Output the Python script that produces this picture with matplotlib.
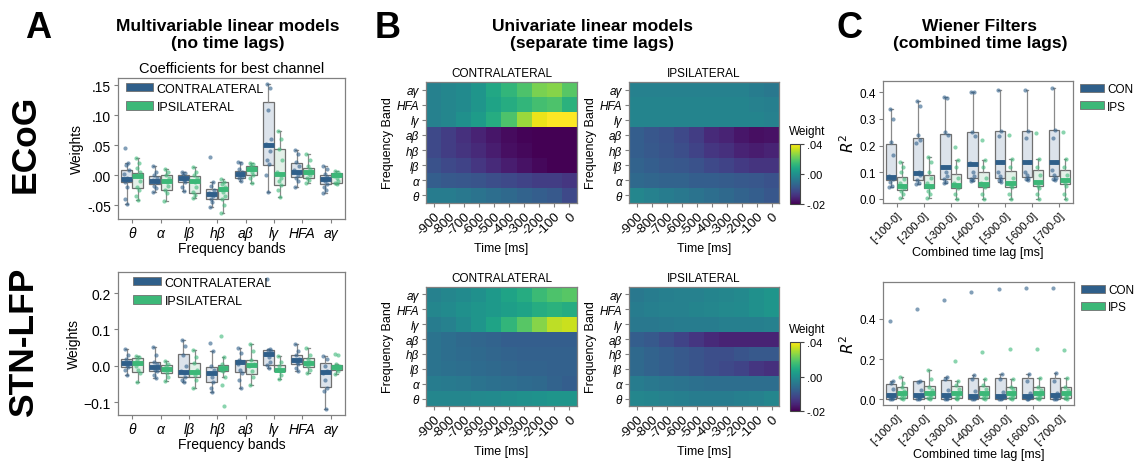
import numpy as np
import matplotlib
matplotlib.use("Agg")
import matplotlib.pyplot as plt
from matplotlib.patches import Patch
from matplotlib.colors import TwoSlopeNorm

plt.rcParams['font.family'] = ['Liberation Sans', 'DejaVu Sans']

# =====================================================
# DATA
# =====================================================
bands = ['θ', 'α', 'lβ', 'hβ', 'aβ', 'lγ', 'HFA', 'aγ']
lags = ['[-100-0]', '[-200-0]', '[-300-0]', '[-400-0]', '[-500-0]', '[-600-0]', '[-700-0]']
times = ['-900', '-800', '-700', '-600', '-500', '-400', '-300', '-200', '-100', '0']

# box stats per band: [whisker low, q1, median, q3, whisker high]
ecog_con_box = [[-0.048, -0.012, -0.007, 0.008, 0.020], [-0.028, -0.015, -0.010, -0.002, 0.016],
                [-0.027, -0.012, -0.004, 0.001, 0.005], [-0.053, -0.040, -0.031, -0.023, -0.012],
                [-0.010, -0.005, 0.002, 0.007, 0.022], [-0.028, 0.017, 0.051, 0.122, 0.152],
                [-0.020, -0.003, 0.005, 0.020, 0.042], [-0.030, -0.015, -0.006, 0.001, 0.015]]
ecog_ips_box = [[-0.042, -0.022, -0.001, 0.003, 0.028], [-0.043, -0.025, -0.010, 0.000, 0.010],
                [-0.038, -0.030, -0.010, -0.002, 0.013], [-0.063, -0.040, -0.023, -0.012, -0.007],
                [-0.013, 0.001, 0.010, 0.015, 0.020], [-0.037, -0.017, 0.002, 0.043, 0.073],
                [-0.013, -0.005, 0.005, 0.012, 0.035], [-0.015, -0.013, 0.000, 0.003, 0.007]]
ecog_con_pts = [[0.046, 0.02, 0.017, 0.008, 0.002, -0.005, -0.008, -0.012, -0.02, -0.04, -0.048],
                [0.016, 0.006, 0.0, -0.005, -0.008, -0.01, -0.012, -0.018, -0.022, -0.028],
                [0.005, 0.003, 0.0, -0.004, -0.005, -0.008, -0.012, -0.02, -0.027],
                [0.03, -0.012, -0.018, -0.025, -0.03, -0.032, -0.035, -0.04, -0.045, -0.053],
                [0.022, 0.02, 0.01, 0.006, 0.003, 0.0, -0.003, -0.005, -0.01],
                [0.152, 0.145, 0.108, 0.06, 0.052, 0.05, 0.04, 0.025, 0.018, 0.0, -0.028],
                [0.042, 0.035, 0.022, 0.015, 0.008, 0.005, 0.0, -0.004, -0.01, -0.02],
                [0.015, 0.01, 0.002, -0.003, -0.006, -0.01, -0.015, -0.02, -0.025, -0.03]]
ecog_ips_pts = [[0.028, 0.02, 0.012, 0.005, 0.0, -0.002, -0.01, -0.02, -0.025, -0.035, -0.042],
                [0.01, 0.005, 0.0, -0.005, -0.01, -0.012, -0.018, -0.025, -0.03, -0.043],
                [0.013, 0.005, 0.0, -0.005, -0.01, -0.012, -0.02, -0.028, -0.033, -0.038],
                [-0.007, -0.012, -0.015, -0.02, -0.023, -0.028, -0.035, -0.04, -0.05, -0.063],
                [0.02, 0.018, 0.015, 0.012, 0.01, 0.005, 0.001, -0.005, -0.013],
                [0.073, 0.06, 0.043, 0.025, 0.005, 0.002, -0.005, -0.01, -0.017, -0.025, -0.037],
                [0.035, 0.025, 0.015, 0.01, 0.006, 0.004, 0.0, -0.005, -0.008, -0.013],
                [0.007, 0.005, 0.002, 0.0, -0.002, -0.005, -0.01, -0.013, -0.015]]

stn_con_box = [[-0.025, -0.002, 0.008, 0.018, 0.047], [-0.033, -0.015, -0.003, 0.010, 0.052],
               [-0.045, -0.030, -0.017, 0.032, 0.072], [-0.072, -0.043, -0.020, -0.002, 0.040],
               [-0.060, -0.017, 0.010, 0.017, 0.050], [-0.005, 0.002, 0.032, 0.045, 0.047],
               [-0.013, 0.005, 0.015, 0.030, 0.060], [-0.118, -0.057, -0.018, 0.007, 0.028]]
stn_ips_box = [[-0.043, -0.017, 0.008, 0.022, 0.028], [-0.042, -0.020, -0.008, 0.003, 0.013],
               [-0.062, -0.030, -0.017, 0.007, 0.043], [-0.030, -0.015, -0.005, 0.003, 0.025],
               [-0.053, -0.023, 0.002, 0.015, 0.060], [-0.035, -0.015, -0.012, 0.003, 0.027],
               [-0.020, -0.003, 0.007, 0.022, 0.050], [-0.022, -0.010, -0.002, 0.003, 0.005]]
stn_con_pts = [[0.047, 0.03, 0.02, 0.012, 0.008, 0.003, -0.002, -0.01, -0.025],
               [0.052, 0.03, 0.012, 0.005, -0.003, -0.01, -0.015, -0.025, -0.033],
               [0.072, 0.055, 0.03, 0.0, -0.015, -0.02, -0.03, -0.04, -0.045],
               [0.062, 0.04, 0.0, -0.01, -0.02, -0.03, -0.045, -0.06, -0.072],
               [0.05, 0.035, 0.015, 0.01, 0.005, -0.01, -0.02, -0.04, -0.06],
               [0.24, 0.047, 0.045, 0.04, 0.032, 0.025, 0.01, 0.002, -0.005],
               [0.06, 0.04, 0.03, 0.02, 0.015, 0.01, 0.005, -0.005, -0.013],
               [0.028, 0.02, 0.0, -0.015, -0.02, -0.04, -0.06, -0.07, -0.118]]
stn_ips_pts = [[0.028, 0.025, 0.015, 0.008, 0.0, -0.01, -0.02, -0.043],
               [0.013, 0.005, 0.0, -0.008, -0.012, -0.02, -0.03, -0.042],
               [0.043, 0.025, 0.007, -0.01, -0.017, -0.025, -0.04, -0.062],
               [0.082, 0.025, 0.005, -0.005, -0.01, -0.015, -0.03, -0.052, -0.11],
               [0.06, 0.04, 0.015, 0.005, 0.0, -0.015, -0.03, -0.053],
               [0.027, 0.01, 0.0, -0.01, -0.012, -0.015, -0.025, -0.035],
               [0.05, 0.03, 0.02, 0.01, 0.005, 0.0, -0.01, -0.02],
               [0.033, 0.03, 0.005, 0.0, -0.002, -0.008, -0.015, -0.022]]

# Wiener filter R^2
wf_ecog_con_box = [[0.045, 0.070, 0.083, 0.205, 0.338], [0.055, 0.070, 0.098, 0.228, 0.366],
                   [0.060, 0.075, 0.118, 0.243, 0.382], [0.067, 0.077, 0.131, 0.251, 0.402],
                   [0.065, 0.080, 0.137, 0.255, 0.410], [0.070, 0.082, 0.137, 0.256, 0.410],
                   [0.072, 0.085, 0.140, 0.258, 0.415]]
wf_ecog_ips_box = [[0.005, 0.035, 0.050, 0.083, 0.137], [0.005, 0.040, 0.050, 0.090, 0.158],
                   [0.000, 0.040, 0.053, 0.095, 0.145], [0.000, 0.045, 0.055, 0.100, 0.145],
                   [0.000, 0.045, 0.060, 0.105, 0.148], [0.000, 0.050, 0.063, 0.108, 0.148],
                   [0.000, 0.055, 0.070, 0.108, 0.148]]
wf_ecog_con_pts = [[0.338, 0.3, 0.215, 0.165, 0.085, 0.08, 0.075, 0.065, 0.05, 0.045],
                   [0.366, 0.35, 0.24, 0.22, 0.21, 0.1, 0.09, 0.07, 0.06, 0.055],
                   [0.382, 0.38, 0.25, 0.24, 0.12, 0.1, 0.085, 0.075, 0.065, 0.06],
                   [0.402, 0.4, 0.25, 0.235, 0.135, 0.1, 0.085, 0.075, 0.07, 0.067],
                   [0.41, 0.255, 0.235, 0.14, 0.1, 0.085, 0.075, 0.07, 0.065],
                   [0.41, 0.255, 0.23, 0.14, 0.1, 0.09, 0.08, 0.075, 0.07],
                   [0.415, 0.258, 0.228, 0.14, 0.11, 0.09, 0.08, 0.075, 0.072]]
wf_ecog_ips_pts = [[0.137, 0.12, 0.1, 0.075, 0.06, 0.05, 0.04, 0.03, 0.02, 0.005],
                   [0.158, 0.14, 0.1, 0.08, 0.06, 0.05, 0.045, 0.03, 0.02, 0.005],
                   [0.195, 0.145, 0.12, 0.08, 0.06, 0.05, 0.04, 0.02, 0.0],
                   [0.22, 0.145, 0.12, 0.08, 0.06, 0.05, 0.045, 0.02, 0.0],
                   [0.238, 0.148, 0.12, 0.08, 0.06, 0.05, 0.045, 0.02, 0.0],
                   [0.248, 0.148, 0.12, 0.09, 0.065, 0.05, 0.04, 0.02, 0.0],
                   [0.25, 0.148, 0.12, 0.09, 0.07, 0.06, 0.05, 0.02, 0.0]]

wf_stn_con_box = [[0.0, 0.0, 0.020, 0.078, 0.090], [0.0, 0.0, 0.020, 0.090, 0.092],
                  [0.0, 0.0, 0.020, 0.098, 0.110], [0.0, 0.0, 0.015, 0.105, 0.120],
                  [0.0, 0.0, 0.015, 0.105, 0.125], [0.0, 0.0, 0.015, 0.105, 0.125],
                  [0.0, 0.0, 0.020, 0.105, 0.130]]
wf_stn_ips_box = [[0.0, 0.005, 0.030, 0.060, 0.110], [0.0, 0.005, 0.030, 0.065, 0.145],
                  [0.0, 0.005, 0.030, 0.068, 0.090], [0.0, 0.005, 0.030, 0.065, 0.100],
                  [0.0, 0.005, 0.030, 0.062, 0.100], [0.0, 0.005, 0.030, 0.062, 0.105],
                  [0.0, 0.005, 0.030, 0.062, 0.105]]
wf_stn_con_pts = [[0.39, 0.09, 0.08, 0.05, 0.02, 0.01, 0.005, 0.0, 0.0],
                  [0.45, 0.092, 0.085, 0.045, 0.02, 0.01, 0.005, 0.0, 0.0],
                  [0.495, 0.11, 0.1, 0.045, 0.02, 0.01, 0.005, 0.0, 0.0],
                  [0.53, 0.12, 0.1, 0.04, 0.015, 0.01, 0.005, 0.0, 0.0],
                  [0.545, 0.125, 0.1, 0.035, 0.015, 0.01, 0.005, 0.0, 0.0],
                  [0.55, 0.125, 0.09, 0.03, 0.015, 0.01, 0.005, 0.0, 0.0],
                  [0.55, 0.13, 0.09, 0.03, 0.02, 0.01, 0.005, 0.0, 0.0]]
wf_stn_ips_pts = [[0.11, 0.08, 0.06, 0.04, 0.03, 0.02, 0.01, 0.005, 0.0],
                  [0.145, 0.1, 0.06, 0.045, 0.03, 0.02, 0.01, 0.005, 0.0],
                  [0.19, 0.09, 0.07, 0.05, 0.03, 0.02, 0.01, 0.005, 0.0],
                  [0.235, 0.1, 0.07, 0.05, 0.03, 0.02, 0.01, 0.005, 0.0],
                  [0.25, 0.1, 0.06, 0.05, 0.03, 0.02, 0.01, 0.005, 0.0],
                  [0.25, 0.105, 0.06, 0.045, 0.03, 0.02, 0.01, 0.005, 0.0],
                  [0.245, 0.105, 0.06, 0.045, 0.03, 0.02, 0.01, 0.005, 0.0]]

# univariate weights, rows theta ... a-gamma (bottom to top), columns -900 ... 0 ms
ecog_con_w = [
    [-0.0032, -0.0032, -0.0040, -0.0048, -0.0056, -0.0064, -0.0072, -0.0080, -0.0088, -0.0112],
    [-0.0080, -0.0088, -0.0092, -0.0096, -0.0104, -0.0112, -0.0120, -0.0128, -0.0128, -0.0136],
    [-0.0100, -0.0112, -0.0120, -0.0136, -0.0152, -0.0168, -0.0180, -0.0192, -0.0200, -0.0200],
    [-0.0112, -0.0128, -0.0140, -0.0152, -0.0168, -0.0184, -0.0192, -0.0200, -0.0200, -0.0200],
    [-0.0112, -0.0128, -0.0144, -0.0160, -0.0176, -0.0188, -0.0196, -0.0200, -0.0200, -0.0200],
    [-0.0024, -0.0016, 0.0000, 0.0040, 0.0096, 0.0176, 0.0280, 0.0376, 0.0400, 0.0400],
    [-0.0024, -0.0016, -0.0008, 0.0016, 0.0064, 0.0096, 0.0128, 0.0160, 0.0176, 0.0112],
    [-0.0024, -0.0016, -0.0008, 0.0016, 0.0080, 0.0128, 0.0176, 0.0240, 0.0256, 0.0192]]
ecog_ips_w = [
    [-0.0016, -0.0024, -0.0032, -0.0040, -0.0048, -0.0056, -0.0064, -0.0072, -0.0080, -0.0092],
    [-0.0064, -0.0068, -0.0072, -0.0072, -0.0080, -0.0080, -0.0084, -0.0088, -0.0092, -0.0100],
    [-0.0072, -0.0080, -0.0088, -0.0092, -0.0100, -0.0112, -0.0120, -0.0132, -0.0140, -0.0140],
    [-0.0080, -0.0088, -0.0096, -0.0104, -0.0120, -0.0136, -0.0144, -0.0160, -0.0168, -0.0160],
    [-0.0080, -0.0092, -0.0100, -0.0112, -0.0128, -0.0152, -0.0160, -0.0176, -0.0184, -0.0180],
    [-0.0020, -0.0020, -0.0020, -0.0020, -0.0020, -0.0020, -0.0020, -0.0020, -0.0020, -0.0024],
    [-0.0020, -0.0020, -0.0020, -0.0020, -0.0020, -0.0020, -0.0020, -0.0020, -0.0024, -0.0028],
    [-0.0024, -0.0024, -0.0024, -0.0024, -0.0024, -0.0024, -0.0024, -0.0024, -0.0032, -0.0040]]
stn_con_w = [
    [-0.0016, -0.0016, -0.0016, -0.0012, -0.0008, -0.0004, 0.0000, 0.0008, 0.0016, 0.0016],
    [-0.0032, -0.0036, -0.0040, -0.0048, -0.0052, -0.0056, -0.0060, -0.0064, -0.0072, -0.0080],
    [-0.0048, -0.0052, -0.0056, -0.0060, -0.0064, -0.0068, -0.0072, -0.0072, -0.0076, -0.0076],
    [-0.0048, -0.0056, -0.0060, -0.0064, -0.0068, -0.0072, -0.0076, -0.0076, -0.0076, -0.0076],
    [-0.0048, -0.0056, -0.0064, -0.0068, -0.0072, -0.0080, -0.0080, -0.0080, -0.0080, -0.0080],
    [-0.0032, -0.0024, -0.0008, 0.0016, 0.0064, 0.0128, 0.0192, 0.0256, 0.0320, 0.0336],
    [-0.0016, -0.0008, 0.0000, 0.0016, 0.0032, 0.0048, 0.0064, 0.0096, 0.0112, 0.0096],
    [-0.0024, -0.0016, -0.0008, 0.0000, 0.0032, 0.0064, 0.0096, 0.0144, 0.0176, 0.0192]]
stn_ips_w = [
    [-0.0016, -0.0020, -0.0024, -0.0028, -0.0032, -0.0032, -0.0032, -0.0028, -0.0024, -0.0016],
    [-0.0032, -0.0040, -0.0044, -0.0048, -0.0052, -0.0056, -0.0056, -0.0056, -0.0056, -0.0056],
    [-0.0064, -0.0072, -0.0080, -0.0088, -0.0096, -0.0104, -0.0112, -0.0120, -0.0136, -0.0144],
    [-0.0064, -0.0072, -0.0080, -0.0088, -0.0096, -0.0104, -0.0104, -0.0096, -0.0088, -0.0088],
    [-0.0080, -0.0088, -0.0104, -0.0120, -0.0136, -0.0152, -0.0160, -0.0160, -0.0160, -0.0160],
    [-0.0040, -0.0040, -0.0036, -0.0032, -0.0032, -0.0032, -0.0028, -0.0028, -0.0028, -0.0024],
    [-0.0032, -0.0028, -0.0024, -0.0024, -0.0020, -0.0016, -0.0012, -0.0008, 0.0000, 0.0016],
    [-0.0040, -0.0032, -0.0028, -0.0024, -0.0024, -0.0020, -0.0016, -0.0012, 0.0000, 0.0016]]

# =====================================================
# STYLE
# =====================================================
CON = '#2f5f8a'
IPS = '#3cb878'
CON_FACE = '#dce3eb'
IPS_FACE = '#e3f0e8'
EDGE = '#707070'
JITTER = np.array([-0.06, 0.05, -0.02, 0.08, -0.08, 0.01, 0.06, -0.04, 0.03, -0.07, 0.0, 0.04])
W, H = 1135, 464

fig = plt.figure(figsize=(W / 100, H / 100), dpi=100)


def px_axes(x0, y0, x1, y1):
    return fig.add_axes([x0 / W, 1 - y1 / H, (x1 - x0) / W, (y1 - y0) / H])


def style_axes(ax, size=8.5):
    for s in ax.spines.values():
        s.set_color('#808080')
        s.set_linewidth(0.9)
    ax.tick_params(labelsize=size, length=3, color='#808080', pad=2)


def draw_boxes(ax, boxes, pts, offset, color, face):
    stats = [dict(whislo=b[0], q1=b[1], med=b[2], q3=b[3], whishi=b[4], fliers=[]) for b in boxes]
    pos = np.arange(len(boxes)) + offset
    ax.bxp(stats, positions=pos, widths=0.38, patch_artist=True, showfliers=False,
           boxprops=dict(facecolor=face, edgecolor=EDGE, linewidth=0.9),
           medianprops=dict(color=color, linewidth=3.5, solid_capstyle='butt'),
           whiskerprops=dict(color='#8a8a8a', linewidth=0.9),
           capprops=dict(color='#8a8a8a', linewidth=0.9), capwidths=0.1)
    for p, vals in zip(pos, pts):
        ax.scatter(p + JITTER[:len(vals)], vals, s=9, color=color, alpha=0.6, lw=0, zorder=3)


def legend(ax, labels, anchor, size, hlen, spacing):
    handles = [Patch(facecolor=CON, edgecolor=EDGE, lw=0.6),
               Patch(facecolor=IPS, edgecolor=EDGE, lw=0.6)]
    ax.legend(handles, labels, loc='upper left', bbox_to_anchor=anchor, frameon=False,
              fontsize=size, handlelength=hlen, handleheight=0.65, handletextpad=0.3,
              labelspacing=spacing, borderaxespad=0.2, borderpad=0.4)


# =====================================================
# PANEL A
# =====================================================
def panel_a(ax, con_box, ips_box, con_pts, ips_pts):
    draw_boxes(ax, con_box, con_pts, -0.2, CON, CON_FACE)
    draw_boxes(ax, ips_box, ips_pts, 0.2, IPS, IPS_FACE)
    ax.set_xlim(-0.5, 7.5)
    ax.set_xticks(range(8))
    ax.set_xticklabels(bands, style='italic')
    ax.set_xlabel('Frequency bands', fontsize=10, labelpad=1)
    ax.set_ylabel('Weights', fontsize=10, labelpad=2)
    style_axes(ax, 10)


ax = px_axes(118, 79, 345, 220)
panel_a(ax, ecog_con_box, ecog_ips_box, ecog_con_pts, ecog_ips_pts)
ax.set_ylim(-0.073, 0.162)
ax.set_yticks([-0.05, 0, 0.05, 0.10, 0.15])
ax.set_yticklabels(['-.05', '.00', '.05', '.10', '.15'])
ax.set_title('Coefficients for best channel', fontsize=10.5, pad=4)
legend(ax, ['CONTRALATERAL', 'IPSILATERAL'], (0.0, 1.02), 9, 2.2, 0.5)

ax = px_axes(118, 273, 345, 416)
panel_a(ax, stn_con_box, stn_ips_box, stn_con_pts, stn_ips_pts)
ax.set_ylim(-0.135, 0.258)
ax.set_yticks([-0.1, 0, 0.1, 0.2])
legend(ax, ['CONTRALATERAL', 'IPSILATERAL'], (0.035, 1.02), 9, 2.2, 0.5)

# =====================================================
# PANEL B
# =====================================================
norm = TwoSlopeNorm(vcenter=0.0, vmin=-0.02, vmax=0.04)


def heatmap(ax, data, title):
    im = ax.imshow(np.array(data), cmap='viridis', norm=norm, origin='lower', aspect='auto')
    style_axes(ax)
    ax.set_xticks(range(len(times)))
    ax.set_xticklabels(times, rotation=45, ha='right', rotation_mode='anchor', fontsize=9.5)
    ax.set_yticks(range(len(bands)))
    ax.set_yticklabels(bands, style='italic')
    ax.set_title(title, fontsize=8.5, pad=4)
    ax.set_xlabel('Time [ms]', fontsize=9, labelpad=3)
    ax.set_ylabel('Frequency Band', fontsize=9, labelpad=2)
    return im


def colorbar(im, y0, y1):
    cax = px_axes(790, y0, 800, y1)
    cb = fig.colorbar(im, cax=cax, ticks=[-0.02, 0.0, 0.04])
    cb.ax.set_yticklabels(['-.02', '.00', '.04'])
    cb.ax.tick_params(labelsize=8, length=3, color='#444444', pad=2)
    cb.outline.set_edgecolor('#444444')
    fig.text(789 / W, 1 - (y0 - 13) / H, 'Weight', fontsize=8.5, ha='left', va='center')


heatmap(px_axes(426, 83, 577, 204), ecog_con_w, 'CONTRALATERAL')
im = heatmap(px_axes(629, 83, 779, 204), ecog_ips_w, 'IPSILATERAL')
colorbar(im, 145, 205)

heatmap(px_axes(426, 288, 577, 407), stn_con_w, 'CONTRALATERAL')
im = heatmap(px_axes(629, 288, 779, 407), stn_ips_w, 'IPSILATERAL')
colorbar(im, 343, 412)

# =====================================================
# PANEL C
# =====================================================
def panel_c(ax, con_box, ips_box, con_pts, ips_pts):
    draw_boxes(ax, con_box, con_pts, -0.2, CON, CON_FACE)
    draw_boxes(ax, ips_box, ips_pts, 0.2, IPS, IPS_FACE)
    ax.set_xlim(-0.5, 6.5)
    style_axes(ax)
    ax.set_xticks(range(7))
    ax.set_xticklabels(lags, rotation=45, ha='right', rotation_mode='anchor', fontsize=8)
    ax.set_xlabel('Combined time lag [ms]', fontsize=9, labelpad=1)
    ax.set_ylabel('$R^2$', fontsize=11, labelpad=2)
    legend(ax, ['CON', 'IPS'], (1.0, 1.04), 8.5, 2.0, 0.45)


ax = px_axes(883, 82, 1073, 204)
panel_c(ax, wf_ecog_con_box, wf_ecog_ips_box, wf_ecog_con_pts, wf_ecog_ips_pts)
ax.set_ylim(-0.015, 0.442)
ax.set_yticks([0, 0.1, 0.2, 0.3, 0.4])

ax = px_axes(883, 283, 1074, 406)
panel_c(ax, wf_stn_con_box, wf_stn_ips_box, wf_stn_con_pts, wf_stn_ips_pts)
ax.set_ylim(-0.028, 0.582)
ax.set_yticks([0, 0.2, 0.4])

# =====================================================
# HEADERS
# =====================================================
def ftext(x, y, s, **kw):
    fig.text(x / W, 1 - y / H, s, ha='center', va='center', **kw)


ftext(38, 29, 'A', fontsize=26, fontweight='bold')
ftext(388, 29, 'B', fontsize=26, fontweight='bold')
ftext(849, 29, 'C', fontsize=26, fontweight='bold')
ftext(228, 35, 'Multivariable linear models\n(no time lags)', fontsize=12.5, fontweight='bold', linespacing=1.2)
ftext(592, 35, 'Univariate linear models\n(separate time lags)', fontsize=12.5, fontweight='bold', linespacing=1.2)
ftext(980, 35, 'Wiener Filters\n(combined time lags)', fontsize=12.5, fontweight='bold', linespacing=1.2)
ftext(25, 144, 'ECoG', fontsize=25.5, fontweight='bold', rotation=90)
ftext(24, 342, 'STN-LFP', fontsize=25.5, fontweight='bold', rotation=90)

fig.savefig('out.png', dpi=100)
